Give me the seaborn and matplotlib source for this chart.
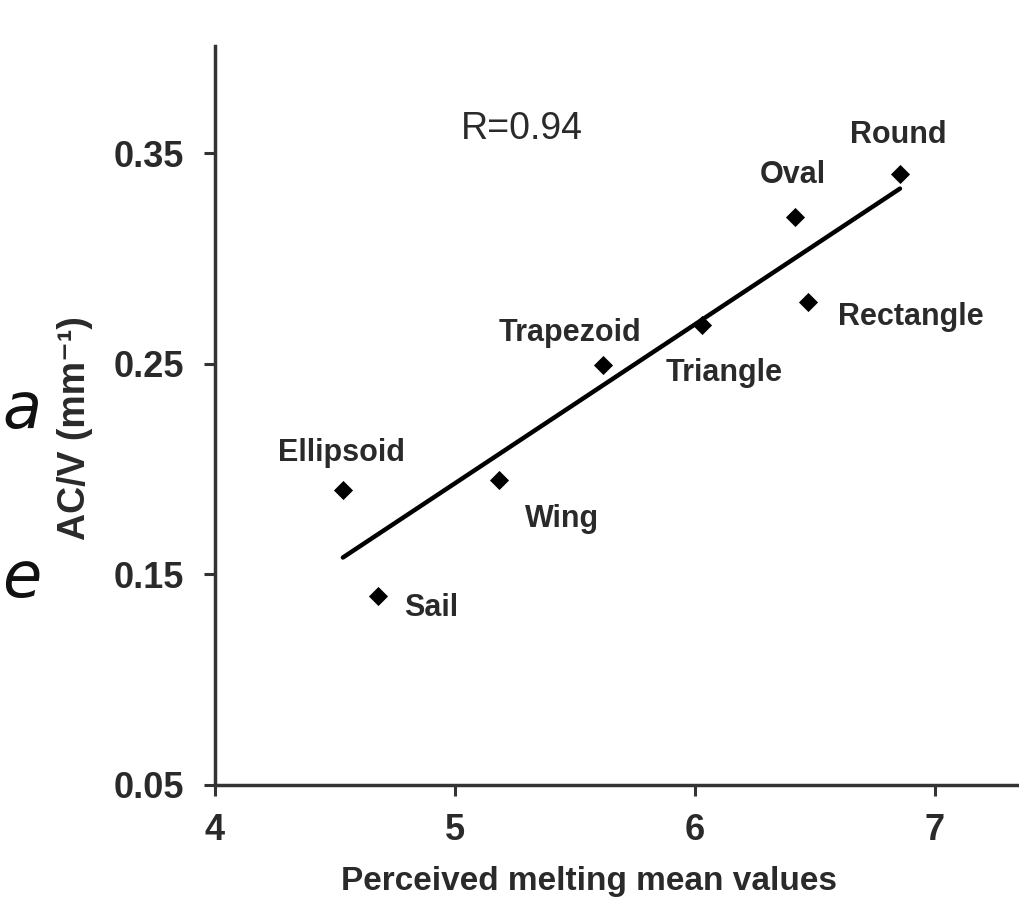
import matplotlib
matplotlib.use("Agg")
import matplotlib.pyplot as plt
import seaborn as sns
import pandas as pd

shapes = ["Round", "Oval", "Rectangle", "Triangle", "Trapezoid", "Wing", "Ellipsoid", "Sail"]
melting = [6.854, 6.417, 6.47, 6.03, 5.617, 5.183, 4.533, 4.679]
acv = [0.340, 0.320, 0.2796, 0.2687, 0.2497, 0.195, 0.190, 0.140]
x_ticks = [4, 5, 6, 7]
y_ticks = [0.05, 0.15, 0.25, 0.35]

df = pd.DataFrame({"shape": shapes, "melting": melting, "acv": acv})

sns.set_style("ticks")
plt.rcParams["font.family"] = ["Liberation Sans", "DejaVu Sans"]

fig = plt.figure(figsize=(10.19, 9.0), dpi=100)
ax = fig.add_axes([215 / 1019, 115 / 900, 1 - 215 / 1019, (785 - 46) / 900])

ink = "#2a2a2a"
sns.regplot(data=df, x="melting", y="acv", ax=ax, ci=None, truncate=True, color="black",
            marker="D", scatter_kws=dict(s=95, color="black", linewidths=0, alpha=1),
            line_kws=dict(color="black", lw=3.2))

ax.set_xlim(4, 7.35)
ax.set_ylim(0.05, 0.401)
ax.set_xticks(x_ticks)
ax.set_xticklabels([str(v) for v in x_ticks], fontweight="bold")
ax.set_yticks(y_ticks)
ax.set_yticklabels([f"{v:.2f}" for v in y_ticks], fontweight="bold")
sns.despine(ax=ax)
for s in ["left", "bottom"]:
    ax.spines[s].set_linewidth(2.5)
    ax.spines[s].set_color("#333333")
ax.tick_params(axis="both", length=8, width=2.2, color="#333333",
               labelsize=26, labelcolor=ink)
ax.tick_params(axis="y", pad=14)
ax.tick_params(axis="x", pad=12)

ax.set_xlabel("Perceived melting mean values", fontsize=24, color=ink, fontweight="bold")
ax.xaxis.set_label_coords((589 - 215) / 804, -(866 - 785) / 739)
ax.xaxis.label.set_va("top")
ax.set_ylabel("AC/V (mm⁻¹)", fontsize=27, color=ink, fontweight="bold")
ax.yaxis.set_label_coords((93 - 215) / 804, (785 - 428) / 739)

# label offsets in pixels (dx right, dy up from marker to label cap-centre)
offsets = {
    "Round": (-2, 42),
    "Oval": (-2, 45),
    "Rectangle": (103, -12),
    "Triangle": (22, -45),
    "Trapezoid": (-33, 35),
    "Wing": (63, -36),
    "Ellipsoid": (-1, 40),
    "Sail": (53, -9),
}
for sh, xv, yv in zip(shapes, melting, acv):
    dx, dy = offsets[sh]
    ax.annotate(sh, (xv, yv), xytext=(dx * 0.72, (dy - 11) * 0.72), textcoords="offset points",
                ha="center", va="baseline", fontsize=22, color=ink, fontweight="bold")

ax.text(5.28, 0.3615, "R=0.94", fontsize=27, color=ink, ha="center", va="center")

fig.text(0.002, 1 - 428 / 900, "a", fontsize=46, style="italic", color="#111111",
         ha="left", va="baseline", family="DejaVu Sans")
fig.text(0.002, 1 - 597 / 900, "e", fontsize=46, style="italic", color="#111111",
         ha="left", va="baseline", family="DejaVu Sans")

fig.savefig("out.png", dpi=100)
